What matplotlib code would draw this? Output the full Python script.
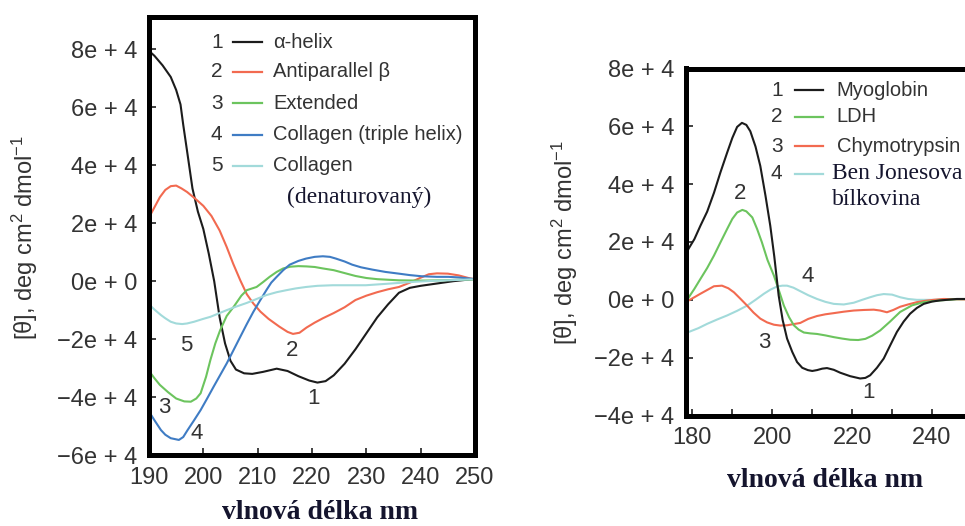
import matplotlib
matplotlib.use("Agg")
import matplotlib.pyplot as plt
from matplotlib.lines import Line2D

plt.rcParams['font.family'] = ['Liberation Sans', 'DejaVu Sans']
plt.rcParams['mathtext.default'] = 'regular'

# ---------------- data: left panel (secondary structures) ----------------
helix_x = [190, 191, 192.5, 194, 195, 195.8, 196.3, 197, 198, 199, 200, 201, 202, 203, 204, 205, 206,
           207.5, 209, 211, 213.5, 215.5, 217.5, 219.5, 221, 222.5, 224, 226, 228, 230, 232, 234, 236,
           238, 240, 243, 246, 250]
helix_y = [79.5, 77.8, 74.5, 70.5, 66, 61, 54, 45, 32, 24, 18, 9.5, 0, -12.5, -21.5, -27.5, -30.5,
           -31.8, -32, -31.3, -30.2, -31, -32.8, -34.3, -35, -34.5, -32.5, -28.5, -23.5, -18, -12.5, -8, -4,
           -2.3, -1.6, -0.8, 0, 0.8]

anti_x = [190, 191, 192, 193, 194, 195, 196, 197, 198.5, 200, 201.5, 203, 204.3, 205.5, 206.8, 208,
          209.2, 210.5, 212, 214, 215.5, 216.5, 217.7, 219, 220.5, 222, 224, 226, 228, 230, 232, 234,
          236, 238, 240, 241.5, 243, 245, 247, 249, 250]
anti_y = [22, 25.5, 29, 31.5, 32.8, 33, 32, 30.8, 28.5, 26, 22.5, 17.5, 11.8, 6, 0.3, -4.5,
          -7.7, -10.5, -13, -15.7, -17.5, -18.2, -17.8, -16, -14.3, -12.8, -11, -9, -6.5, -5, -3.8, -2.8,
          -2, -0.5, 1.2, 2.4, 2.7, 2.6, 2, 1, 0.7]

ext_x = [190, 191, 192, 193.5, 195, 196.5, 197.7, 198.7, 199.5, 200.5, 201.3, 202.2, 203.1, 204.3,
         205.6, 207, 208, 209.8, 211, 212.2, 213.5, 214.7, 216, 217.5, 219, 220.5, 222, 224, 226, 228,
         230, 232, 236, 240, 244, 247, 250]
ext_y = [-31, -33.5, -35.8, -38.3, -40.5, -41.5, -41.6, -40.5, -38.7, -33, -27.2, -21.5, -16.9, -12,
         -8.8, -5, -3.1, -2, -0.3, 1.5, 3.2, 4.4, 5, 5.2, 5.1, 4.9, 4.4, 3.8, 2.8, 1.8,
         1.1, 0.7, 0.3, 0.2, 0.3, 0.5, 0.6]

coll_x = [190, 191, 192.2, 193, 194, 195.5, 196.3, 197.1, 198.3, 199.5, 200.7, 201.9, 203.1, 204.3,
          205.5, 206.8, 208, 209.2, 210.4, 211.6, 212.5, 213.5, 214.7, 215.9, 217.5, 218.9, 220.5, 222,
          223.3, 224.4, 226, 227.4, 229, 231.1, 233.5, 236, 238, 240.2, 243, 245.1, 247, 249, 250]
coll_y = [-45, -48, -51.4, -53, -54.2, -54.8, -53.8, -51.4, -48, -44.5, -40.5, -36.4, -32.4, -28.4,
          -24, -19.2, -14.8, -10.6, -6.8, -3.1, -0.5, 1.5, 3.8, 5.7, 7, 7.8, 8.4, 8.6,
          8.4, 7.8, 6.8, 5.7, 4.8, 4, 3.2, 2.6, 2.1, 1.7, 1.5, 1.5, 1.3, 0.9, 0.7]

den_x = [190, 191, 192.2, 193, 194, 195, 196.1, 197, 198.3, 200, 201.3, 203, 204.3, 206, 208, 210,
         211.6, 213.5, 215.3, 217, 218.9, 221, 223.8, 227, 229.9, 233, 236, 239, 242, 245, 249, 250]
den_y = [-8, -9.8, -11.7, -12.8, -14, -14.6, -14.8, -14.6, -14, -13, -12.3, -11, -10, -8.8, -7.5, -6,
         -4.8, -3.8, -3.1, -2.5, -2, -1.6, -1.4, -1.4, -1.4, -1, -0.6, -0.2, 0.1, 0.3, 0.6, 0.6]

# ---------------- data: right panel (proteins) ----------------
myo_x = [178.4, 179.1, 180.5, 182, 183.7, 185.4, 187, 188.7, 190, 191.2, 192.4, 193.5, 194.5, 195.8,
         197, 198.3, 199.5, 200.5, 201.6, 202.6, 203.7, 205, 206.2, 207.5, 208.9, 210, 211.2, 212.5,
         213.7, 215.4, 217, 219.5, 222, 223.3, 224.5, 226.2, 227.9, 229.5, 231.2, 232.9, 234.5, 236.2,
         237.9, 240, 242, 246.2, 250]
myo_y = [16, 17.8, 21, 25.6, 30.5, 37, 44, 50.9, 56, 59.8, 61.2, 60.5, 58.3, 53,
         46.3, 36, 25.6, 15, 1.5, -7, -13.4, -18, -21.5, -23.5, -24.3, -24.6, -24.3, -23.8,
         -23.6, -24.2, -25.2, -26.4, -27.2, -27, -26.1, -23.5, -20.3, -15.8, -11.1, -7.5, -4.8, -2.8,
         -1.4, -0.6, -0.2, 0.3, 0.3]

ldh_x = [178.4, 179.1, 180.5, 182, 183.7, 185.4, 187, 188.7, 190, 191.2, 192.5, 193.5, 195, 196.2,
         197.4, 198.8, 200.4, 201.6, 202.9, 204.2, 205.4, 206.6, 207.9, 209.5, 211.2, 213.3, 215.4,
         217.5, 219.5, 221.5, 223.3, 225, 227, 229.5, 232, 235, 237.9, 242, 246, 250]
ldh_y = [-1, 0.9, 3.8, 7.2, 11, 15.3, 19.8, 24.5, 28, 30.2, 31.1, 30.6, 28.5, 24.5,
         19.9, 13.8, 8.4, 3.5, -2, -6, -8.8, -10.3, -11.3, -11.6, -11.8, -12.3, -12.9,
         -13.4, -13.8, -13.9, -13.5, -12.4, -10.6, -7.5, -4.2, -1.9, -0.8, -0.2, 0.2, 0.3]

chy_x = [178.4, 179.1, 180.5, 182, 183.7, 185.4, 187.4, 189, 190.4, 192, 193.7, 195.3, 197, 198.7,
         200.4, 202, 203.7, 205.3, 207, 209, 211.2, 213.3, 215.4, 217.9, 220.4, 223, 225.4, 227,
         228.7, 230.3, 232, 234, 236.2, 238.5, 240.4, 242.9, 246, 250]
chy_y = [-0.5, -0.2, 0.9, 2.1, 3.4, 4.7, 4.9, 4, 2.6, 0.4, -2, -4.4, -6.5, -7.8,
         -8.6, -8.9, -8.8, -8.4, -8, -6.6, -5.6, -5, -4.6, -4.1, -3.7, -3.5, -3.4, -3.7,
         -4.3, -3.5, -2.4, -1.6, -0.8, -0.3, 0, 0.3, 0.2, 0.1]

bj_x = [178.4, 179.1, 181.5, 183.7, 186.2, 188.7, 191.2, 193.7, 195.8, 197.9, 199.5, 201.2, 202.5,
        203.7, 205.3, 207, 209, 211.2, 213.3, 215.4, 217.9, 220.4, 222.5, 224.5, 226.2, 227.9, 230,
        232, 234, 236.2, 240, 245, 250]
bj_y = [-11.5, -11.1, -9.8, -8.3, -6.8, -5.4, -3.8, -2, 0, 2.1, 3.5, 4.6, 4.9,
        4.9, 4.2, 3, 1.6, 0.3, -0.7, -1.4, -1.6, -1, 0, 0.9, 1.6, 2.0, 1.8,
        0.9, 0.3, 0, 0, 0.2, 0.3]

left_nums = ['1', '2', '3', '4', '5']
left_labels = ['\u03b1-helix', 'Antiparallel \u03b2', 'Extended', 'Collagen (triple helix)', 'Collagen']
left_note = '(denaturovan\u00fd)'
right_nums = ['1', '2', '3', '4']
right_labels = ['Myoglobin', 'LDH', 'Chymotrypsin', 'Ben Jonesova']
right_note = 'b\u00edlkovina'

left_yticks = [-6e4, -4e4, -2e4, 0, 2e4, 4e4, 6e4, 8e4]
left_yticklabels = ['\u22126e + 4', '\u22124e + 4', '\u22122e + 4', '0e + 0', '2e + 4', '4e + 4', '6e + 4', '8e + 4']
right_yticks = [-4e4, -2e4, 0, 2e4, 4e4, 6e4, 8e4]
right_yticklabels = ['\u22124e + 4', '\u22122e + 4', '0e + 0', '2e + 4', '4e + 4', '6e + 4', '8e + 4']
left_xticks = [190, 200, 210, 220, 230, 240, 250]
right_xticks = [180, 200, 220, 240]
right_xminor = [190, 210, 230]

xlabel = 'vlnov\u00e1 d\u00e9lka nm'
ylabel = '[\u03b8], deg cm$^2$ dmol$^{-1}$'

# ---------------- styling ----------------
W, H = 965, 526
BLACK = '#1c1c1c'
RED = '#f26a50'
GREEN = '#6cc45e'
BLUE = '#3f7cc4'
CYAN = '#a2dada'
TXT = '#333333'
NOTE = '#15152e'

left_colors = [BLACK, RED, GREEN, BLUE, CYAN]
right_colors = [BLACK, GREEN, RED, CYAN]

def fx(px):
    return px / W

def fy(py):
    return 1 - py / H

fig = plt.figure(figsize=(W / 100, H / 100), dpi=100)
fig.patch.set_facecolor('white')

ax1 = fig.add_axes([fx(149), fy(455), (475 - 149) / W, (455 - 16.7) / H])
ax2 = fig.add_axes([fx(686), fy(415.5), (972 - 686) / W, (415.5 - 68.5) / H])

def style(ax):
    for s in ax.spines.values():
        s.set_linewidth(3.6)
        s.set_color('black')
    ax.tick_params(which='both', direction='in', length=5, width=1.3, color='#333333',
                   labelcolor=TXT, labelsize=17)
    ax.tick_params(axis='x', pad=8.5)
    ax.tick_params(axis='y', pad=8.5)

lw = 1.5
for xs, ys, c in [(helix_x, helix_y, BLACK), (anti_x, anti_y, RED), (ext_x, ext_y, GREEN),
                  (coll_x, coll_y, BLUE), (den_x, den_y, CYAN)]:
    ax1.plot(xs, [v * 1e3 for v in ys], color=c, lw=lw, solid_capstyle='round',
             solid_joinstyle='round')
ax1.set_xlim(190, 250)
ax1.set_ylim(-6e4, 9.13e4)
ax1.set_xticks(left_xticks)
ax1.set_yticks(left_yticks)
ax1.set_yticklabels(left_yticklabels)
style(ax1)

for xs, ys, c in [(bj_x, bj_y, CYAN), (chy_x, chy_y, RED), (ldh_x, ldh_y, GREEN), (myo_x, myo_y, BLACK)]:
    ax2.plot(xs, [v * 1e3 for v in ys], color=c, lw=lw, solid_capstyle='round',
             solid_joinstyle='round')
ax2.set_xlim(178.4, 250)
ax2.set_ylim(-4e4, 8e4)
ax2.set_xticks(right_xticks)
ax2.set_xticks(right_xminor, minor=True)
ax2.set_yticks(right_yticks)
ax2.set_yticklabels(right_yticklabels)
style(ax2)

# curve number labels (data coordinates)
for (x, y, t) in [(196.8, -22.1e3, '5'), (216.3, -23.8e3, '2'), (220.2, -40.4e3, '1'),
                  (192.9, -43.5e3, '3'), (198.8, -52.5e3, '4')]:
    ax1.text(x, y, t, ha='center', va='center', fontsize=16, color=TXT)
for (x, y, t) in [(192.0, 36.6e3, '2'), (208.8, 7.9e3, '4'), (198.0, -14.6e3, '3'), (224.0, -32.2e3, '1')]:
    ax2.text(x, y, t, ha='center', va='center', fontsize=16, color=TXT)

# legends (manual)
def legend(rows, nums, labels, colors, xnum, xl0, xl1, xtxt, serif_last=None):
    for i, (n, lab, c) in enumerate(zip(nums, labels, colors)):
        y = rows[i]
        fig.text(fx(xnum), fy(y), n, ha='center', va='center', fontsize=15, color=TXT)
        fig.add_artist(Line2D([fx(xl0), fx(xl1)], [fy(y), fy(y)], color=c, lw=1.6,
                              transform=fig.transFigure))
        if serif_last is not None and i == len(nums) - 1:
            fig.text(fx(serif_last), fy(y), lab, ha='left', va='center', fontsize=17,
                     family='Liberation Serif', color=NOTE)
        else:
            fig.text(fx(xtxt), fy(y), lab, ha='left', va='center', fontsize=14.5, color=TXT)

legend([42, 71.5, 103, 135, 166], left_nums, left_labels, left_colors, 216.7, 233, 262, 273)
fig.text(fx(359), fy(197), left_note, ha='center', va='center', fontsize=17,
         family='Liberation Serif', color=NOTE)
legend([90, 117, 146, 173.5], right_nums, right_labels, right_colors, 776.7, 795, 822.7, 836.7,
       serif_last=831.7)
fig.text(fx(831.7), fy(200), right_note, ha='left', va='center', fontsize=17,
         family='Liberation Serif', color=NOTE)

# axis titles
for (x, y) in [(25, 238), (565, 243)]:
    fig.text(fx(x), fy(y), ylabel, rotation=90, ha='center', va='center', fontsize=17, color=TXT)
for (x, y) in [(320, 519), (825.5, 487)]:
    fig.text(fx(x), fy(y), xlabel, ha='center', va='baseline', fontsize=20,
             family='Liberation Serif', fontweight='bold', color=NOTE)

fig.savefig('out.png', dpi=100)
